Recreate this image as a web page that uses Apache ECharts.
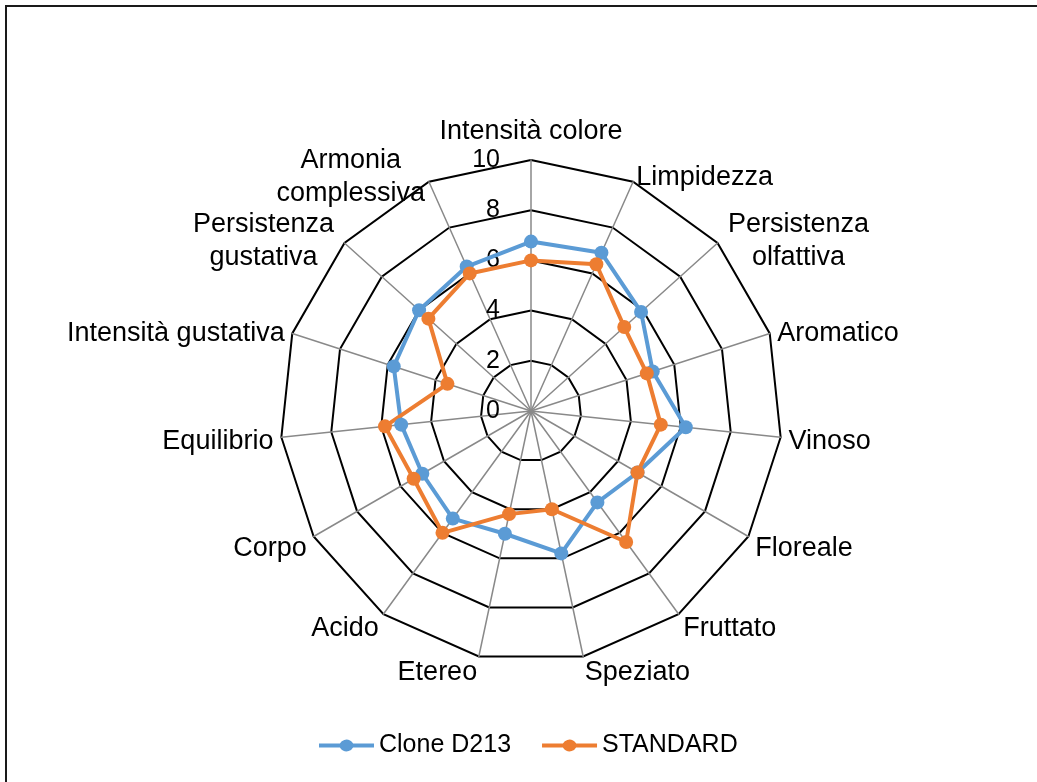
<!DOCTYPE html>
<html>
<head>
<meta charset="utf-8">
<script src="https://cdn.jsdelivr.net/npm/echarts@6/dist/echarts.min.js"></script>
<style>
  html, body { margin: 0; padding: 0; background: #fff; }
  #main { width: 1037px; height: 782px; }
</style>
</head>
<body>
<div id="main"></div>
<script>
// categories in the picture's order, clockwise from the top
var categories = ['Intensità colore', 'Limpidezza', 'Persistenza\nolfattiva', 'Aromatico', 'Vinoso',
    'Floreale', 'Fruttato', 'Speziato', 'Etereo', 'Acido', 'Corpo', 'Equilibrio',
    'Intensità gustativa', 'Persistenza\ngustativa', 'Armonia\ncomplessiva'];
var cloneD213 = [6.75, 6.9, 5.9, 5.1, 6.2, 4.9, 4.5, 5.8, 5.0, 5.3, 5.0, 5.2, 5.75, 6.0, 6.3];
var standard = [6.0, 6.4, 5.0, 4.85, 5.2, 4.9, 6.45, 4.0, 4.2, 6.0, 5.4, 5.85, 3.5, 5.5, 6.0];
var seriesNames = ['Clone D213', 'STANDARD'];
var axisMax = 10;

var font = 'Liberation Sans, Arial, sans-serif';
// names on the lower half sit a bit further down
var lowerNames = ['Floreale', 'Fruttato', 'Speziato', 'Etereo', 'Acido', 'Corpo'];

// echarts radar goes counter-clockwise, so flip everything after the first item
function clockwise(arr) {
    return [arr[0]].concat(arr.slice(1).reverse());
}

var indicators = clockwise(categories).map(function (name, i) {
    var ind = { name: name, min: 0, max: axisMax };
    if (i === 0) {
        ind.axisLabel = { show: true, color: '#000', fontSize: 25, fontFamily: font, margin: 31, padding: [9, 0, 0, 0] };
    }
    if (lowerNames.indexOf(name) >= 0) {
        ind.nameTextStyle = { padding: [16, 0, 0, 0] };
    }
    return ind;
});

// legend icon: line with a dot in the middle
var legendIcon = 'path://M0,5.5H20.9A7.5,7.5 0 0 1 34.1,5.5H55V9.5H34.1A7.5,7.5 0 0 1 20.9,9.5H0Z';

var myChart = echarts.init(document.getElementById('main'));

var option = {
    backgroundColor: '#fff',
    animation: false,
    textStyle: { fontFamily: font },
    graphic: [{
        type: 'rect',
        shape: { x: 6, y: 6, width: 1100, height: 900 },
        style: { fill: 'none', stroke: '#1a1a1a', lineWidth: 2 }
    }],
    legend: {
        data: seriesNames,
        left: 314,
        top: 728,
        itemWidth: 55,
        itemHeight: 15,
        itemGap: 31,
        icon: legendIcon,
        textStyle: { color: '#000', fontSize: 25, fontFamily: font }
    },
    radar: {
        center: [531, 411],
        radius: 251,
        startAngle: 90,
        shape: 'polygon',
        splitNumber: 5,
        indicator: indicators,
        axisName: {
            color: '#000',
            fontSize: 27,
            fontFamily: font,
            lineHeight: 33,
            padding: [6, 0, 0, 0],
            formatter: function (name) {
                if (name.indexOf('\n') < 0) return name;
                return name.split('\n').map(function (s) { return '{c|' + s + '}'; }).join('\n');
            },
            rich: {
                c: { width: 150, align: 'center', fontSize: 27, lineHeight: 33, color: '#000', fontFamily: font }
            }
        },
        nameGap: 8,
        axisLine: { lineStyle: { color: '#898989', width: 1.5 } },
        axisTick: { show: false },
        axisLabel: { show: false },
        splitLine: { lineStyle: { color: '#000', width: 2 } },
        splitArea: { show: false }
    },
    series: [{
        type: 'radar',
        symbol: 'circle',
        symbolSize: 14,
        data: [
            {
                name: seriesNames[0],
                value: clockwise(cloneD213),
                itemStyle: { color: '#5B9BD5' },
                lineStyle: { color: '#5B9BD5', width: 4 }
            },
            {
                name: seriesNames[1],
                value: clockwise(standard),
                itemStyle: { color: '#ED7D31' },
                lineStyle: { color: '#ED7D31', width: 4 }
            }
        ]
    }]
};

myChart.setOption(option);
</script>
</body>
</html>
